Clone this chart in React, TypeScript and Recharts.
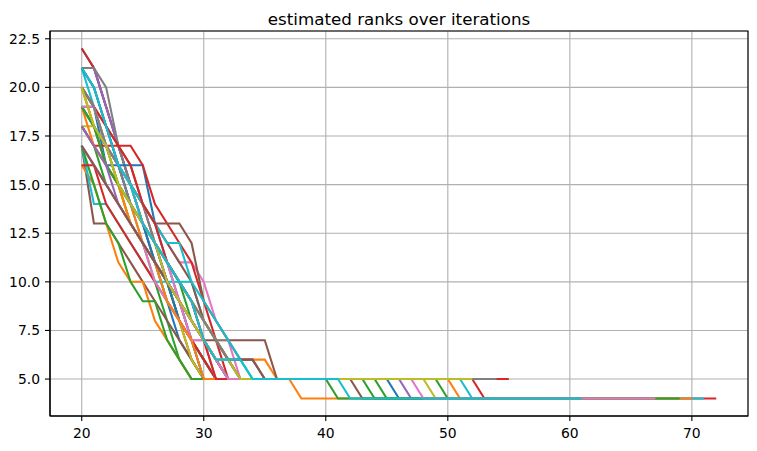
import React from 'react';
import { LineChart, Line, XAxis, YAxis, CartesianGrid, ReferenceArea } from 'recharts';

// matplotlib default colour cycle (tab10)
const palette = [
  '#1f77b4', '#ff7f0e', '#2ca02c', '#d62728', '#9467bd',
  '#8c564b', '#e377c2', '#7f7f7f', '#bcbd22', '#17becf',
];

const startIter = 20;
const xTicks = [20, 30, 40, 50, 60, 70];
const yTicks = [5, 7.5, 10, 12.5, 15, 17.5, 20, 22.5];

// estimated rank per iteration, from iteration 20 until the run first reaches 5
const descents: number[][] = [
  [22, 21, 19, 17, 15, 13, 11, 9, 7, 6, 5],
  [18, 17, 16, 15, 14, 13, 12, 11, 10, 9, 8, 7, 7, 6, 6, 6, 5],
  [20, 19, 17, 15, 13, 12, 10, 8, 6, 5],
  [22, 21, 19, 17, 15, 14, 12, 10, 8, 6, 5],
  [21, 21, 19, 17, 15, 13, 12, 10, 9, 7, 6, 5],
  [17, 13, 13, 12, 11, 10, 9, 8, 7, 6, 5],
  [19, 18, 17, 16, 15, 14, 13, 12, 11, 11, 10, 8, 7, 5],
  [21, 21, 20, 17, 15, 13, 11, 10, 8, 7, 6, 5],
  [20, 18, 16, 15, 13, 12, 11, 9, 8, 6, 5],
  [21, 19, 17, 15, 14, 12, 11, 9, 8, 7, 5],
  [19, 19, 16, 16, 16, 16, 13, 11, 9, 7, 6, 5],
  [16, 15, 13, 11, 10, 10, 8, 7, 6, 5],
  [18, 17, 15, 14, 13, 12, 11, 10, 8, 7, 6, 5],
  [18, 17, 17, 17, 17, 16, 14, 13, 12, 11, 9, 7, 5],
  [17, 16, 15, 14, 13, 12, 11, 10, 9, 8, 7, 6, 5],
  [20, 19, 18, 16, 15, 14, 13, 13, 13, 12, 9, 8, 7, 7, 7, 7, 5],
  [20, 19, 17, 16, 15, 13, 12, 10, 9, 7, 7, 6, 5],
  [18, 17, 16, 15, 14, 13, 12, 11, 10, 9, 8, 7, 7, 6, 6, 5],
  [18, 18, 16, 15, 13, 12, 11, 10, 9, 8, 7, 6, 5],
  [17, 14, 14, 13, 12, 11, 10, 10, 10, 10, 8, 7, 6, 5],
  [19, 18, 17, 16, 14, 13, 11, 10, 8, 7, 5],
  [20, 18, 17, 15, 14, 12, 11, 10, 9, 8, 7, 6, 5],
  [17, 15, 13, 12, 10, 9, 9, 7, 6, 5],
  [16, 16, 14, 13, 12, 11, 10, 9, 8, 7, 6, 5],
  [19, 18, 16, 15, 14, 13, 12, 11, 10, 9, 7, 6, 5],
  [21, 20, 18, 17, 16, 14, 13, 12, 11, 10, 8, 7, 6, 5],
  [17, 16, 15, 14, 13, 12, 10, 9, 8, 7, 7, 5],
  [19, 18, 17, 16, 15, 14, 12, 11, 10, 9, 8, 7, 6, 6, 6, 5],
  [20, 19, 17, 16, 15, 13, 12, 11, 10, 9, 8, 7, 6, 5],
  [19, 18, 17, 16, 15, 14, 13, 12, 12, 10, 9, 8, 7, 6, 5],
  [21, 20, 18, 16, 14, 13, 12, 10, 9, 8, 7, 6, 5],
  [19, 17, 16, 15, 13, 12, 11, 9, 8, 7, 5],
  [19, 18, 16, 15, 14, 13, 12, 11, 10, 8, 7, 6, 5],
  [20, 19, 18, 17, 16, 14, 13, 11, 10, 9, 7, 5],
  [18, 17, 16, 14, 13, 12, 11, 10, 9, 8, 7, 6, 6, 5],
  [17, 16, 15, 14, 13, 12, 11, 10, 9, 8, 7, 7, 6, 6, 6, 5],
  [19, 19, 17, 16, 15, 13, 12, 11, 9, 8, 7, 6, 5],
  [20, 19, 17, 16, 14, 13, 12, 11, 10, 9, 8, 7, 6, 5],
  [20, 18, 17, 15, 14, 13, 12, 10, 9, 8, 7, 6, 6, 5],
  [21, 20, 18, 16, 15, 13, 12, 11, 10, 9, 7, 6, 6, 6, 5],
];

// last iteration each run spends at rank 5, and the last iteration of the run
// (runs that go on past lastAtFive sit at rank 4 from the next iteration)
const lastAtFive = [
  45, 37, 43, 52, 46, 42, 38, 40, 48, 51,
  36, 38, 40, 39, 37, 40, 36, 38, 35, 37,
  33, 50, 44, 55, 39, 34, 35, 54, 36, 39,
  35, 33, 49, 37, 38, 40, 47, 39, 52, 41,
];
const lastIter = [
  60, 50, 52, 72, 54, 48, 38, 40, 57, 71,
  36, 38, 46, 39, 37, 40, 36, 38, 35, 37,
  33, 70, 58, 55, 39, 34, 35, 54, 36, 39,
  35, 33, 69, 37, 38, 40, 67, 39, 52, 61,
];

const runs = descents.map((ranks, i) => {
  const pts = ranks.map((y, k) => ({ x: startIter + k, y }));
  const reached = startIter + ranks.length - 1;
  if (lastAtFive[i] > reached) pts.push({ x: lastAtFive[i], y: 5 });
  if (lastIter[i] > lastAtFive[i]) {
    pts.push({ x: lastAtFive[i] + 1, y: 4 });
    if (lastIter[i] > lastAtFive[i] + 1) pts.push({ x: lastIter[i], y: 4 });
  }
  return pts;
});

const font = 'DejaVu Sans, sans-serif';

export default function App() {
  if (typeof document !== 'undefined') document.body.style.margin = '0';
  return (
    <div style={{ position: 'relative', width: 757, height: 451, background: '#fff' }}>
      <LineChart width={757} height={451} margin={{ top: 31, right: 9, left: 0, bottom: 0 }}>
        <CartesianGrid stroke="#b0b0b0" strokeWidth={1.1} />
        <XAxis
          dataKey="x"
          type="number"
          domain={[17.4, 74.6]}
          allowDataOverflow
          ticks={xTicks}
          height={35}
          tickSize={5}
          tickMargin={7}
          stroke="#000"
          strokeWidth={1.1}
          tick={{ fill: '#000', fontSize: 13.9, fontFamily: font }}
        />
        <YAxis
          type="number"
          domain={[3.1, 22.9]}
          allowDataOverflow
          ticks={yTicks}
          width={50}
          tickSize={5}
          tickMargin={5}
          stroke="#000"
          strokeWidth={1.1}
          tickFormatter={(v: number) => v.toFixed(1)}
          tick={{ fill: '#000', fontSize: 13.9, fontFamily: font }}
        />
        <ReferenceArea
          x1={17.4}
          x2={74.6}
          y1={3.1}
          y2={22.9}
          fill="none"
          stroke="#000"
          strokeWidth={1.1}
          ifOverflow="visible"
        />
        {runs.map((pts, i) => (
          <Line
            key={i}
            name={`run${i}`}
            data={pts}
            dataKey="y"
            type="linear"
            stroke={palette[i % 10]}
            strokeWidth={2.08}
            dot={false}
            activeDot={false}
            isAnimationActive={false}
          />
        ))}
      </LineChart>
      <svg width={757} height={40} style={{ position: 'absolute', left: 0, top: 0 }}>
        <text x={399} y={25} textAnchor="middle" fontSize={16.7} fontFamily={font} fill="#000">
          estimated ranks over iterations
        </text>
      </svg>
    </div>
  );
}
